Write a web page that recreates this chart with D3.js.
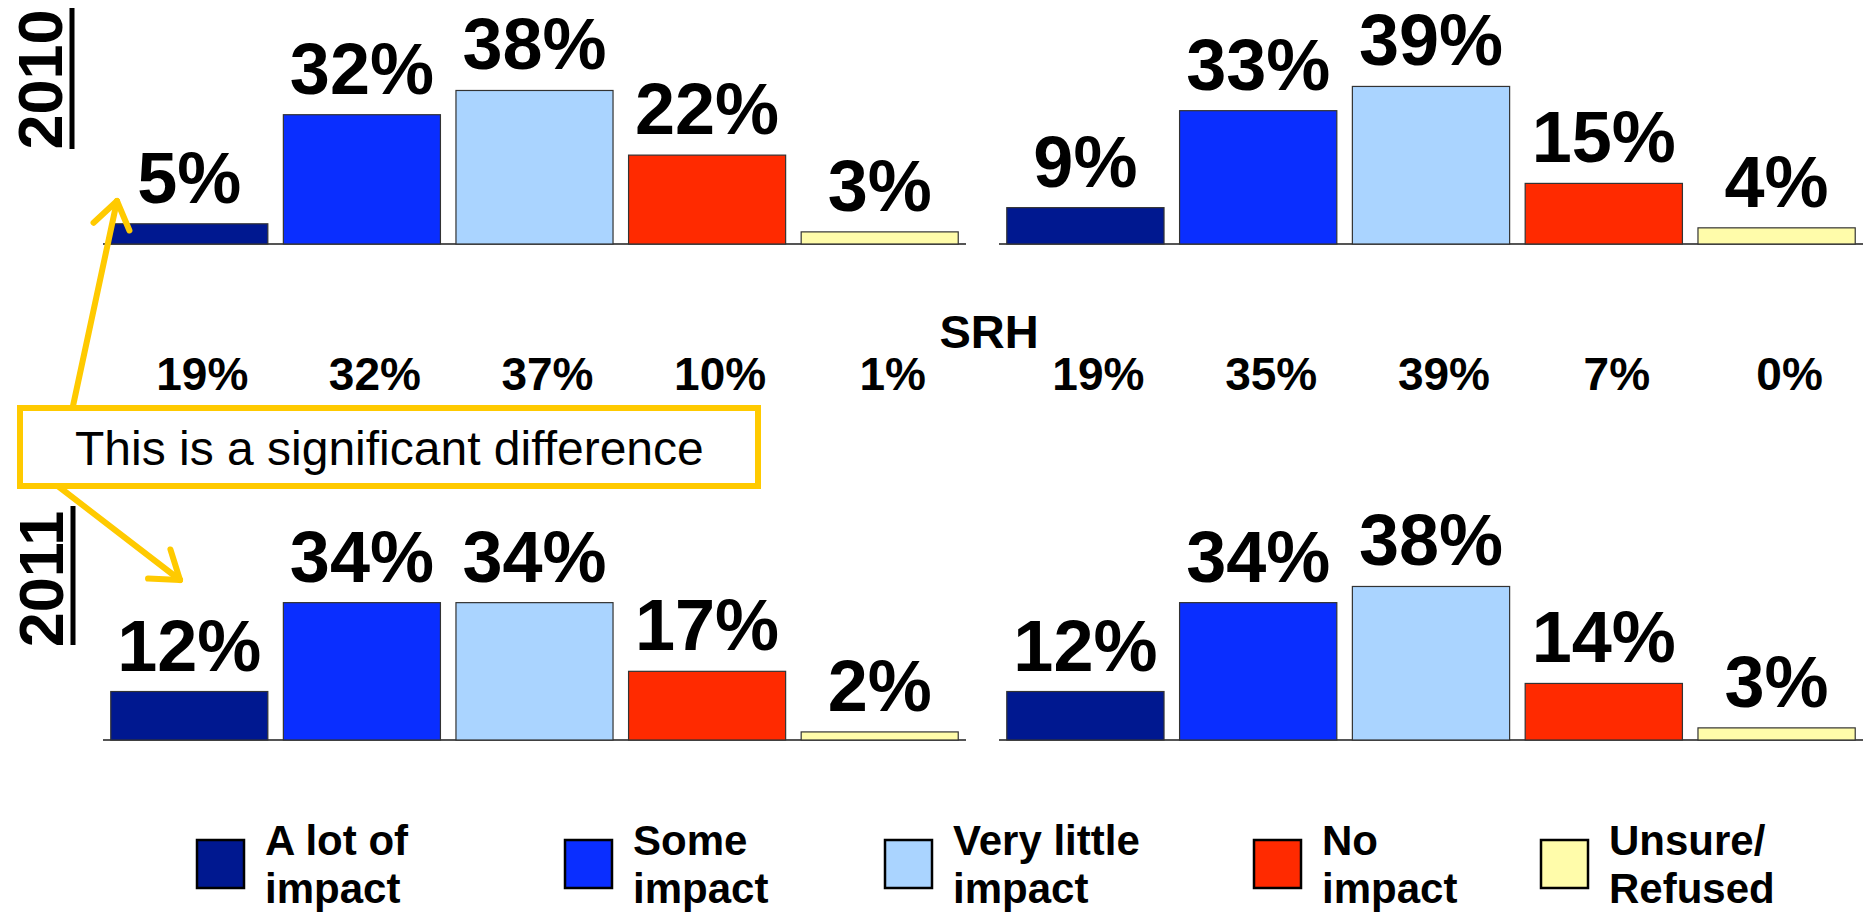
<!DOCTYPE html>
<html>
<head>
<meta charset="utf-8">
<script src="https://cdn.jsdelivr.net/npm/d3@7"></script>
<style>
  html, body { margin: 0; padding: 0; background: #fff; }
  svg { display: block; }
  text { font-family: "Liberation Sans", Arial, sans-serif; }
</style>
</head>
<body>
<svg id="chart" width="1863" height="912"></svg>
<script>
// ---------- data ----------
const categories = ["A lot of impact", "Some impact", "Very little impact", "No impact", "Unsure/Refused"];
const legendLines = [["A lot of", "impact"], ["Some", "impact"], ["Very little", "impact"], ["No", "impact"], ["Unsure/", "Refused"]];
const colors = ["#001890", "#0A2EFF", "#AAD4FF", "#FF2A00", "#FFFCAA"];
const years = ["2010", "2011"];
const left2010 = [5, 32, 38, 22, 3];
const right2010 = [9, 33, 39, 15, 4];
const left2011 = [12, 34, 34, 17, 2];
const right2011 = [12, 34, 38, 14, 3];
const srhTitle = "SRH";
const srhLeft = [19, 32, 37, 10, 1];
const srhRight = [19, 35, 39, 7, 0];
const noteText = "This is a significant difference";

// ---------- layout (positions only) ----------
const legendXs = [197, 565, 885, 1254, 1541];

const svg = d3.select("#chart");
const fmt = v => v + "%";

// ---------- scales ----------
const xLeft = d3.scaleBand().domain(categories).range([103, 966]).paddingInner(0.09).paddingOuter(0.045);
const xRight = d3.scaleBand().domain(categories).range([999, 1863]).paddingInner(0.09).paddingOuter(0.045);
const yTop = d3.scaleLinear().domain([0, 40]).range([244, 244 - 161.6]);
const yBot = d3.scaleLinear().domain([0, 40]).range([740, 740 - 161.6]);

function panel(values, x, y) {
  const g = svg.append("g");
  g.append("line")
    .attr("x1", x.range()[0]).attr("x2", x.range()[1])
    .attr("y1", y(0)).attr("y2", y(0))
    .attr("stroke", "#555").attr("stroke-width", 2);
  g.selectAll("rect").data(values).join("rect")
    .attr("x", (d, i) => x(categories[i]))
    .attr("width", x.bandwidth())
    .attr("y", d => y(d))
    .attr("height", d => y(0) - y(d))
    .attr("fill", (d, i) => colors[i])
    .attr("stroke", "#333").attr("stroke-width", 1.2);
  g.selectAll("text.val").data(values).join("text")
    .attr("class", "val")
    .attr("x", (d, i) => x(categories[i]) + x.bandwidth() / 2)
    .attr("y", d => y(d) - 21)
    .attr("text-anchor", "middle")
    .attr("font-weight", "bold")
    .attr("font-size", 72)
    .attr("fill", "#000")
    .text(fmt);
}
panel(left2010, xLeft, yTop);
panel(right2010, xRight, yTop);
panel(left2011, xLeft, yBot);
panel(right2011, xRight, yBot);

// ---------- SRH row ----------
svg.append("text").attr("x", 989).attr("y", 348).attr("text-anchor", "middle")
  .attr("font-weight", "bold").attr("font-size", 47).text(srhTitle);
function srhRow(values, x) {
  svg.append("g").selectAll("text").data(values).join("text")
    .attr("x", (d, i) => x(categories[i]) + x.bandwidth() / 2 + 13)
    .attr("y", 390)
    .attr("text-anchor", "middle")
    .attr("font-weight", "bold")
    .attr("font-size", 46)
    .text(fmt);
}
srhRow(srhLeft, xLeft);
srhRow(srhRight, xRight);

// ---------- year labels ----------
const yearPos = [{cy: 79.5, bx: 62, lx: 72, y1: 8, y2: 149}, {cy: 579, bx: 63, lx: 73, y1: 506, y2: 645}];
years.forEach((yr, i) => {
  const p = yearPos[i];
  svg.append("text")
    .attr("transform", `translate(${p.bx},${p.cy}) rotate(-90)`)
    .attr("text-anchor", "middle")
    .attr("font-weight", "bold").attr("font-size", 63)
    .text(yr);
  svg.append("line").attr("x1", p.lx).attr("x2", p.lx).attr("y1", p.y1).attr("y2", p.y2)
    .attr("stroke", "#000").attr("stroke-width", 5);
});

// ---------- annotation arrows + box ----------
const gold = "#FFCA00";
function arrow(x0, y0, x1, y1) {
  const g = svg.append("g").attr("stroke", gold).attr("stroke-width", 6).attr("stroke-linecap", "round").attr("fill", "none");
  g.append("line").attr("x1", x0).attr("y1", y0).attr("x2", x1).attr("y2", y1);
  const ang = Math.atan2(y0 - y1, x0 - x1);
  const L = 32, a = 35 * Math.PI / 180;
  [ang - a, ang + a].forEach(t => {
    g.append("line").attr("x1", x1).attr("y1", y1)
      .attr("x2", x1 + L * Math.cos(t)).attr("y2", y1 + L * Math.sin(t));
  });
}
arrow(70, 420, 117, 201);
arrow(50, 480, 180, 580);
svg.append("rect").attr("x", 20).attr("y", 408).attr("width", 738).attr("height", 78)
  .attr("fill", "#fff").attr("stroke", gold).attr("stroke-width", 6);
svg.append("text").attr("x", 75).attr("y", 465).attr("font-size", 48).attr("fill", "#000").text(noteText);

// ---------- legend ----------
const lg = svg.append("g").selectAll("g").data(categories).join("g")
  .attr("transform", (d, i) => `translate(${legendXs[i]},840)`);
lg.append("rect").attr("width", 47).attr("height", 48)
  .attr("fill", (d, i) => colors[i]).attr("stroke", "#000").attr("stroke-width", 2.5);
lg.each(function(d, i) {
  const t = d3.select(this).append("text").attr("font-weight", "bold").attr("font-size", 42);
  legendLines[i].forEach((ln, j) => {
    t.append("tspan").attr("x", 68).attr("y", 15 + j * 48).text(ln);
  });
});
</script>
</body>
</html>
